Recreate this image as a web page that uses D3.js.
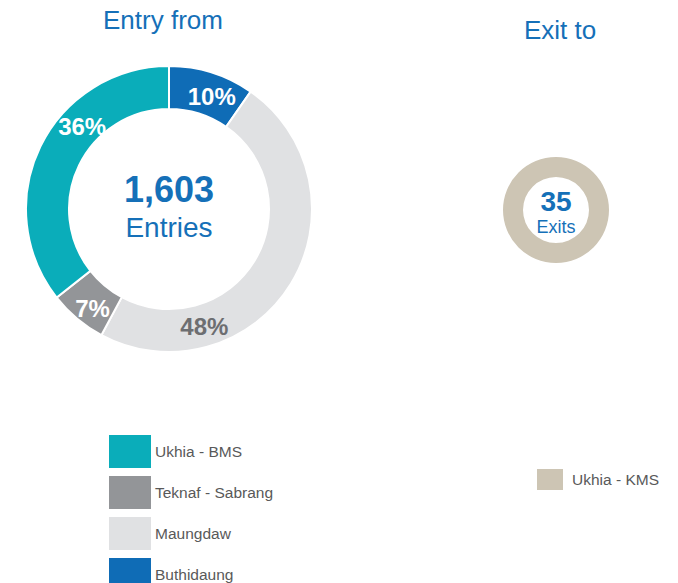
<!DOCTYPE html>
<html>
<head>
<meta charset="utf-8">
<script src="https://cdn.jsdelivr.net/npm/d3@7"></script>
<style>
  body { margin: 0; background: #fff; }
  text { font-family: "Liberation Sans", Arial, sans-serif; }
</style>
</head>
<body>
<svg id="chart" width="678" height="583"></svg>
<script>
// entry data, clockwise from 12 o'clock
const entryPlaces = ["Buthidaung", "Maungdaw", "Teknaf - Sabrang", "Ukhia - BMS"];
const entryCounts = [155, 772, 105, 571];
const entryTotal = 1603;

const exitPlaces = ["Ukhia - KMS"];
const exitCounts = [35];

const legendOrder = ["Ukhia - BMS", "Teknaf - Sabrang", "Maungdaw", "Buthidaung"];

const svg = d3.select("#chart");
const blue = "#1570b8";

const color = d3.scaleOrdinal()
  .domain(["Buthidaung", "Maungdaw", "Teknaf - Sabrang", "Ukhia - BMS", "Ukhia - KMS"])
  .range(["#0f6cb6", "#e0e1e3", "#939598", "#0aadba", "#cdc5b4"]);

const pie = d3.pie().sort(null).value(d => d.value);

// Titles
svg.append("text")
  .attr("x", 163).attr("y", 29)
  .attr("text-anchor", "middle")
  .attr("font-size", "26px")
  .attr("fill", blue)
  .text("Entry from");

svg.append("text")
  .attr("x", 560).attr("y", 39)
  .attr("text-anchor", "middle")
  .attr("font-size", "26px")
  .attr("fill", blue)
  .text("Exit to");

// Entry donut
const entry = svg.append("g").attr("transform", "translate(169,209)");
const entryData = entryPlaces.map((p, i) => ({ place: p, value: entryCounts[i] }));
const entryArcs = pie(entryData);
const arc = d3.arc().innerRadius(100).outerRadius(143);

entry.selectAll("path")
  .data(entryArcs)
  .enter()
  .append("path")
  .attr("d", arc)
  .attr("fill", d => color(d.data.place))
  .attr("stroke", "#fff")
  .attr("stroke-width", 2);

// excel-ish label placement: nudge angle / radius per slice
const labelShift = { "Buthidaung": [0.06, 120], "Maungdaw": [0.73, 123], "Teknaf - Sabrang": [-0.04, 125], "Ukhia - BMS": [0.31, 120] };
entry.selectAll(".pct")
  .data(entryArcs)
  .enter()
  .append("text")
  .attr("class", "pct")
  .attr("transform", d => {
    const s = labelShift[d.data.place];
    const a = (d.startAngle + d.endAngle) / 2 + s[0];
    return `translate(${Math.sin(a) * s[1]},${-Math.cos(a) * s[1]})`;
  })
  .attr("text-anchor", "middle")
  .attr("dy", "0.36em")
  .attr("font-size", "24px")
  .attr("font-weight", "bold")
  .attr("fill", d => d.data.place === "Maungdaw" ? "#6d6e71" : "#fff")
  .text(d => Math.round(d.data.value / entryTotal * 100) + "%");

entry.append("text")
  .attr("y", -7)
  .attr("text-anchor", "middle")
  .attr("font-size", "36px")
  .attr("font-weight", "bold")
  .attr("fill", blue)
  .text(d3.format(",")(entryTotal));

entry.append("text")
  .attr("y", 28)
  .attr("text-anchor", "middle")
  .attr("font-size", "28px")
  .attr("fill", blue)
  .text("Entries");

// Exit donut
const exit = svg.append("g").attr("transform", "translate(556,210)");
const exitData = exitPlaces.map((p, i) => ({ place: p, value: exitCounts[i] }));
exit.selectAll("path")
  .data(pie(exitData))
  .enter()
  .append("path")
  .attr("d", d3.arc().innerRadius(33).outerRadius(53))
  .attr("fill", d => color(d.data.place));

exit.append("text")
  .attr("y", 1)
  .attr("text-anchor", "middle")
  .attr("font-size", "28px")
  .attr("font-weight", "bold")
  .attr("fill", blue)
  .text(d3.sum(exitCounts));

exit.append("text")
  .attr("y", 23)
  .attr("text-anchor", "middle")
  .attr("font-size", "18px")
  .attr("fill", blue)
  .text("Exits");

// Entry legend
const legend = svg.append("g").attr("transform", "translate(109,435)");
const rowY = d3.scalePoint().domain(legendOrder).range([0, 123]);

legend.selectAll("rect")
  .data(legendOrder)
  .enter()
  .append("rect")
  .attr("x", 0)
  .attr("y", d => rowY(d))
  .attr("width", 42)
  .attr("height", 33)
  .attr("fill", d => color(d));

legend.selectAll("text")
  .data(legendOrder)
  .enter()
  .append("text")
  .attr("x", 46)
  .attr("y", d => rowY(d) + 22)
  .attr("font-size", "15.5px")
  .attr("fill", "#595959")
  .text(d => d);

// Exit legend
const exitLegend = svg.append("g").attr("transform", "translate(537,469)");
exitLegend.selectAll("rect")
  .data(exitPlaces)
  .enter()
  .append("rect")
  .attr("width", 26)
  .attr("height", 21)
  .attr("fill", d => color(d));

exitLegend.selectAll("text")
  .data(exitPlaces)
  .enter()
  .append("text")
  .attr("x", 35)
  .attr("y", 16)
  .attr("font-size", "15.5px")
  .attr("fill", "#595959")
  .text(d => d);
</script>
</body>
</html>
